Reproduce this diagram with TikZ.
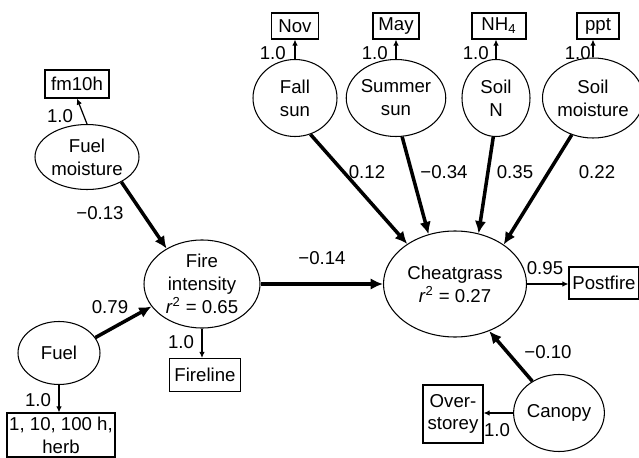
\documentclass[tikz,border=0pt]{standalone}
\usepackage{fontspec}
\setmainfont{Liberation Sans}
\usetikzlibrary{shapes, arrows.meta, positioning}
\tikzstyle{lat} = [ellipse, draw, line width=0.6pt, inner sep=0pt, align=center]
\tikzstyle{obs} = [rectangle, draw, line width=0.6pt, inner sep=1pt, align=center]
\tikzstyle{coef} = [draw, line width=2pt, -{Latex[length=7pt,width=6.5pt]}]
\tikzstyle{load} = [draw, line width=0.7pt, -{Latex[length=3.5pt,width=3.2pt]}]
\tikzstyle{num} = [inner sep=0pt]

\begin{document}
\begin{tikzpicture}[font=\fontsize{10.6}{13}\selectfont]
			\useasboundingbox (0,0) rectangle (12.78,9.14);
			% latent variables
			\node [lat, minimum width=2.08cm, minimum height=1.30cm] (fmoist) at (1.74, 6.00) {Fuel\\moisture};
			\node [lat, minimum width=2.32cm, minimum height=1.76cm] (fire) at (4.04, 3.46) {Fire\\intensity\\\textit{r}\textsuperscript{2} = 0.65};
			\node [lat, minimum width=1.64cm, minimum height=1.26cm] (fuel) at (1.18, 2.08) {Fuel};
			\node [lat, minimum width=2.86cm, minimum height=2.12cm] (cheat) at (9.10, 3.46) {Cheatgrass\\\textit{r}\textsuperscript{2} = 0.27};
			\node [lat, minimum width=1.76cm, minimum height=1.54cm] (canopy) at (11.18, 0.88) {Canopy};
			\node [lat, minimum width=1.68cm, minimum height=1.54cm] (fsun) at (5.90, 7.18) {Fall\\sun};
			\node [lat, minimum width=1.56cm, minimum height=1.54cm] (ssun) at (7.92, 7.18) {Summer\\sun};
			\node [lat, minimum width=1.36cm, minimum height=1.54cm] (soiln) at (9.92, 7.18) {Soil\\N};
			\node [lat, minimum width=1.84cm, minimum height=1.60cm] (smoist) at (11.86, 7.18) {Soil\\moisture};

			% indicators
			\node [obs, minimum width=1.28cm, minimum height=0.56cm] (fm10h) at (1.54, 7.46) {fm10h};
			\node [obs, minimum width=2.16cm, minimum height=0.88cm] (herb) at (1.22, 0.44) {1, 10, 100 h,\\herb};
			\node [obs, minimum width=1.42cm, minimum height=0.66cm] (fline) at (4.10, 1.64) {Fireline};
			\node [obs, minimum width=1.40cm, minimum height=0.64cm] (post) at (12.08, 3.48) {Postfire};
			\node [obs, minimum width=1.20cm, minimum height=1.16cm] (over) at (9.06, 0.86) {Over-\\storey};
			\node [obs, minimum width=0.94cm, minimum height=0.52cm] (nov) at (5.90, 8.62) {Nov};
			\node [obs, minimum width=0.92cm, minimum height=0.52cm] (may) at (7.92, 8.62) {May};
			\node [obs, minimum width=1.08cm, minimum height=0.52cm] (nh4) at (9.98, 8.62) {NH\textsubscript{4}};
			\node [obs, minimum width=0.84cm, minimum height=0.52cm] (ppt) at (11.96, 8.62) {ppt};

			% structural paths
			\path [coef] (fmoist.-36) -- (fire.135);
			\path [coef] (fuel.23) -- (fire.204);
			\path [coef] (fire.east) -- (cheat.west);
			\path [coef] (fsun.-67) -- (cheat.140);
			\path [coef] (ssun.-81) -- (cheat.118);
			\path [coef] (soiln.-94) -- (cheat.65);
			\path [coef] (smoist.-120) -- (cheat.39);
			\path [coef] (canopy.130) -- (cheat.-54);

			% measurement paths
			\path [load] (fmoist.north) -- (fm10h.south);
			\path [load] (fuel.south) -- (fuel.south |- herb.north);
			\path [load] (fire.south) -- (fire.south |- fline.north);
			\path [load] (cheat.east) -- (cheat.east -| post.west);
			\path [load] (canopy.west) -- (canopy.west -| over.east);
			\path [load] (fsun.north) -- (nov.south);
			\path [load] (ssun.north) -- (may.south);
			\path [load] (soiln.north) -- (soiln.north |- nh4.south);
			\path [load] (smoist.north) -- (smoist.north |- ppt.south);

			% coefficients
			\node [num] (c1) at (2.00, 4.88) {−0.13};
			\node [num] (c2) at (2.20, 3.00) {0.79};
			\node [num] (c3) at (6.44, 3.98) {−0.14};
			\node [num] (c4) at (7.34, 5.70) {0.12};
			\node [num] (c5) at (8.88, 5.70) {−0.34};
			\node [num] (c6) at (10.30, 5.70) {0.35};
			\node [num] (c7) at (11.94, 5.70) {0.22};
			\node [num] (c8) at (10.96, 2.10) {−0.10};
			\node [num] (c9) at (10.90, 3.78) {0.95};
			\node [num] (l1) at (1.20, 6.82) {1.0};
			\node [num] (l2) at (0.76, 1.14) {1.0};
			\node [num] (l3) at (3.62, 2.30) {1.0};
			\node [num] (l4) at (9.94, 0.54) {1.0};
			\node [num, anchor=east] (l5) at (5.72, 8.08) {1.0};
			\node [num, anchor=east] (l6) at (7.76, 8.08) {1.0};
			\node [num, anchor=east] (l7) at (9.78, 8.08) {1.0};
			\node [num, anchor=east] (l8) at (11.82, 8.08) {1.0};
		\end{tikzpicture}
\end{document}
